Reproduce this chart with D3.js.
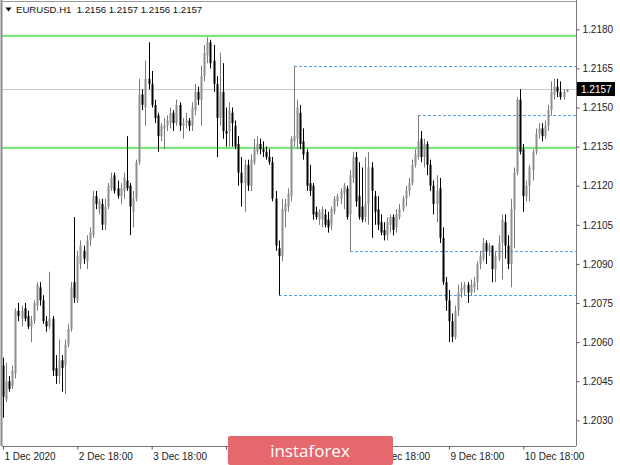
<!DOCTYPE html>
<html><head><meta charset="utf-8">
<script src="https://cdn.jsdelivr.net/npm/d3@7/dist/d3.min.js"></script>
<style>body{margin:0;background:#fff}svg{display:block}</style>
</head><body>
<svg id="c" width="620" height="465"></svg>
<script>
const symbol = "EURUSD.H1";
const headerValues = ["1.2156", "1.2157", "1.2156", "1.2157"];
const xLabelBars = [0, 24, 48, 72, 96, 120, 144, 168];
const xLabels = ["1 Dec 2020", "2 Dec 18:00", "3 Dec 18:00", "4 Dec 18:00", "7 Dec 18:00", "8 Dec 18:00", "9 Dec 18:00", "10 Dec 18:00"];
const yTicks = [1.2030, 1.2045, 1.2060, 1.2075, 1.2090, 1.2105, 1.2120, 1.2135, 1.2150, 1.2165, 1.2180];
const open = [1.2051,1.2038,1.2045,1.2043,1.2048,1.2072,1.2069,1.2073,1.2070,1.2066,
1.2068,1.2074,1.2081,1.2076,1.2068,1.2066,1.2069,1.2050,1.2047,1.2053,
1.2051,1.2059,1.2065,1.2083,1.2076,1.2090,1.2095,1.2091,1.2099,1.2101,
1.2116,1.2111,1.2113,1.2105,1.2112,1.2119,1.2124,1.2119,1.2116,1.2118,
1.2122,1.2120,1.2110,1.2115,1.2129,1.2155,1.2150,1.2161,1.2159,1.2151,
1.2147,1.2139,1.2142,1.2143,1.2144,1.2148,1.2144,1.2151,1.2143,1.2144,
1.2145,1.2143,1.2149,1.2156,1.2153,1.2162,1.2170,1.2175,1.2168,1.2159,
1.2146,1.2156,1.2141,1.2141,1.2148,1.2143,1.2136,1.2125,1.2121,1.2128,
1.2120,1.2129,1.2133,1.2136,1.2134,1.2133,1.2131,1.2129,1.2115,1.2096,
1.2093,1.2110,1.2112,1.2116,1.2137,1.2138,1.2148,1.2137,1.2133,1.2121,
1.2120,1.2110,1.2107,1.2107,1.2109,1.2107,1.2105,1.2110,1.2114,1.2115,
1.2117,1.2119,1.2109,1.2123,1.2131,1.2116,1.2112,1.2108,1.2113,1.2127,
1.2116,1.2111,1.2106,1.2103,1.2101,1.2105,1.2108,1.2104,1.2108,1.2111,
1.2115,1.2118,1.2121,1.2128,1.2131,1.2138,1.2131,1.2136,1.2128,1.2120,
1.2113,1.2119,1.2100,1.2083,1.2076,1.2068,1.2062,1.2072,1.2079,1.2080,
1.2082,1.2079,1.2081,1.2083,1.2090,1.2092,1.2098,1.2095,1.2097,1.2088,
1.2092,1.2098,1.2106,1.2097,1.2090,1.2111,1.2125,1.2153,1.2134,1.2116,
1.2120,1.2126,1.2133,1.2140,1.2142,1.2139,1.2143,1.2149,1.2155,1.2158,
1.2156,1.2154,1.2156];
const high = [1.2054,1.2052,1.2047,1.2051,1.2073,1.2075,1.2074,1.2075,1.2072,1.2070,
1.2076,1.2083,1.2083,1.2078,1.2070,1.2087,1.2070,1.2055,1.2061,1.2055,
1.2061,1.2067,1.2083,1.2108,1.2095,1.2099,1.2097,1.2101,1.2104,1.2118,
1.2118,1.2115,1.2115,1.2115,1.2121,1.2125,1.2125,1.2122,1.2121,1.2125,
1.2139,1.2121,1.2118,1.2130,1.2161,1.2157,1.2168,1.2175,1.2164,1.2153,
1.2148,1.2144,1.2146,1.2147,1.2150,1.2149,1.2153,1.2152,1.2146,1.2148,
1.2146,1.2152,1.2159,1.2158,1.2166,1.2174,1.2177,1.2176,1.2174,1.2162,
1.2171,1.2167,1.2150,1.2152,1.2150,1.2145,1.2139,1.2131,1.2130,1.2130,
1.2132,1.2138,1.2139,1.2138,1.2137,1.2135,1.2134,1.2131,1.2118,1.2099,
1.2115,1.2115,1.2119,1.2139,1.2166,1.2153,1.2151,1.2142,1.2134,1.2128,
1.2121,1.2112,1.2111,1.2112,1.2111,1.2110,1.2112,1.2116,1.2117,1.2119,
1.2121,1.2120,1.2126,1.2133,1.2133,1.2129,1.2127,1.2131,1.2133,1.2129,
1.2118,1.2116,1.2109,1.2106,1.2108,1.2109,1.2109,1.2111,1.2113,1.2116,
1.2120,1.2123,1.2130,1.2134,1.2147,1.2141,1.2138,1.2137,1.2130,1.2122,
1.2124,1.2123,1.2104,1.2085,1.2080,1.2071,1.2074,1.2082,1.2083,1.2083,
1.2083,1.2084,1.2085,1.2091,1.2095,1.2100,1.2099,1.2098,1.2097,1.2095,
1.2101,1.2109,1.2109,1.2101,1.2115,1.2127,1.2154,1.2157,1.2136,1.2122,
1.2128,1.2134,1.2142,1.2144,1.2144,1.2145,1.2151,1.2160,1.2161,1.2161,
1.2160,1.2157,1.2157];
const low = [1.2031,1.2037,1.2041,1.2042,1.2046,1.2068,1.2066,1.2068,1.2065,1.2060,
1.2067,1.2072,1.2074,1.2067,1.2064,1.2065,1.2047,1.2044,1.2044,1.2041,
1.2040,1.2058,1.2064,1.2075,1.2075,1.2088,1.2090,1.2088,1.2097,1.2100,
1.2111,1.2109,1.2103,1.2103,1.2111,1.2118,1.2117,1.2115,1.2113,1.2115,
1.2118,1.2101,1.2104,1.2114,1.2128,1.2149,1.2143,1.2157,1.2150,1.2144,
1.2133,1.2137,1.2134,1.2141,1.2142,1.2141,1.2143,1.2141,1.2138,1.2142,
1.2141,1.2141,1.2147,1.2151,1.2143,1.2160,1.2167,1.2165,1.2156,1.2131,
1.2143,1.2138,1.2135,1.2135,1.2135,1.2134,1.2120,1.2112,1.2110,1.2118,
1.2118,1.2128,1.2132,1.2132,1.2131,1.2130,1.2128,1.2114,1.2095,1.2078,
1.2091,1.2104,1.2110,1.2114,1.2135,1.2134,1.2134,1.2130,1.2118,1.2116,
1.2107,1.2107,1.2105,1.2104,1.2104,1.2102,1.2103,1.2109,1.2112,1.2113,
1.2111,1.2107,1.2095,1.2121,1.2112,1.2107,1.2106,1.2106,1.2105,1.2100,
1.2105,1.2103,1.2101,1.2099,1.2099,1.2102,1.2101,1.2102,1.2107,1.2110,
1.2112,1.2116,1.2120,1.2127,1.2130,1.2129,1.2127,1.2124,1.2118,1.2109,
1.2106,1.2098,1.2082,1.2072,1.2060,1.2060,1.2061,1.2070,1.2077,1.2078,
1.2075,1.2078,1.2079,1.2080,1.2088,1.2091,1.2090,1.2093,1.2083,1.2083,
1.2091,1.2084,1.2092,1.2088,1.2081,1.2096,1.2124,1.2132,1.2110,1.2114,
1.2114,1.2122,1.2132,1.2138,1.2137,1.2138,1.2141,1.2147,1.2153,1.2154,
1.2153,1.2153,1.2156];
const close = [1.2039,1.2045,1.2042,1.2049,1.2072,1.2070,1.2072,1.2069,1.2066,1.2068,
1.2075,1.2082,1.2076,1.2068,1.2066,1.2069,1.2049,1.2047,1.2053,1.2050,
1.2059,1.2065,1.2081,1.2077,1.2093,1.2097,1.2092,1.2099,1.2102,1.2116,
1.2113,1.2114,1.2105,1.2112,1.2120,1.2123,1.2118,1.2116,1.2119,1.2123,
1.2119,1.2112,1.2115,1.2129,1.2155,1.2151,1.2161,1.2159,1.2151,1.2146,
1.2139,1.2143,1.2143,1.2145,1.2148,1.2144,1.2151,1.2143,1.2144,1.2145,
1.2143,1.2150,1.2156,1.2153,1.2162,1.2171,1.2175,1.2167,1.2159,1.2146,
1.2156,1.2141,1.2140,1.2149,1.2144,1.2135,1.2125,1.2121,1.2128,1.2120,
1.2130,1.2134,1.2136,1.2134,1.2133,1.2131,1.2129,1.2115,1.2097,1.2093,
1.2111,1.2113,1.2117,1.2138,1.2139,1.2150,1.2136,1.2132,1.2120,1.2118,
1.2109,1.2108,1.2110,1.2111,1.2105,1.2104,1.2111,1.2115,1.2116,1.2118,
1.2120,1.2108,1.2124,1.2131,1.2114,1.2108,1.2107,1.2113,1.2127,1.2118,
1.2110,1.2105,1.2102,1.2101,1.2106,1.2108,1.2103,1.2109,1.2111,1.2115,
1.2118,1.2121,1.2128,1.2132,1.2137,1.2131,1.2136,1.2128,1.2120,1.2113,
1.2118,1.2100,1.2083,1.2076,1.2068,1.2062,1.2072,1.2079,1.2081,1.2082,
1.2079,1.2082,1.2083,1.2090,1.2093,1.2098,1.2095,1.2097,1.2088,1.2093,
1.2098,1.2107,1.2097,1.2090,1.2111,1.2125,1.2153,1.2133,1.2116,1.2120,
1.2127,1.2133,1.2140,1.2142,1.2139,1.2143,1.2149,1.2156,1.2158,1.2156,
1.2154,1.2156,1.2157];
const greenLevels = [1.21775, 1.21345];
const dottedLevels = [1.2166, 1.2147, 1.2095, 1.2078];
const dottedStartBars = [94, 134, 112, 89];
const lastPrice = 1.2157;

const svg = d3.select("#c");
const plotL = 2, plotR = 576, plotT = 1, plotB = 446;
const font = "'Liberation Sans', Arial, sans-serif";

const x = d3.scaleLinear().domain([0, open.length - 1]).range([3, 566.65]);
const y = d3.scaleLinear().domain([1.2030, 1.2180]).range([420.3, 29.3]);
const px = v => Math.round(x(v));
const py = v => Math.round(y(v));

svg.append("rect").attr("width", 620).attr("height", 465).attr("fill", "#fff");

// green horizontal levels
svg.selectAll("line.green").data(greenLevels).enter().append("line")
  .attr("x1", plotL).attr("x2", plotR)
  .attr("y1", d => y(d)).attr("y2", d => y(d))
  .attr("stroke", "#7ee47e").attr("stroke-width", 2.2);

// current price line
svg.append("line").attr("x1", plotL).attr("x2", plotR)
  .attr("y1", py(lastPrice) + 0.5).attr("y2", py(lastPrice) + 0.5)
  .attr("stroke", "#c8c8c8").attr("stroke-width", 1);

// dotted levels
svg.selectAll("line.dot").data(dottedLevels).enter().append("line")
  .attr("x1", (d, i) => px(dottedStartBars[i]))
  .attr("x2", plotR)
  .attr("y1", d => py(d) + 0.5).attr("y2", d => py(d) + 0.5)
  .attr("stroke", "#4ea3f0").attr("stroke-width", 1.2)
  .attr("stroke-dasharray", "3,2");

// candles
const idx = d3.range(open.length);
const bull = i => close[i] >= open[i];
const g = svg.append("g");
g.selectAll("line.wick").data(idx).enter().append("line")
  .attr("x1", i => px(i) + 0.5).attr("x2", i => px(i) + 0.5)
  .attr("y1", i => y(high[i])).attr("y2", i => y(low[i]))
  .attr("stroke", i => bull(i) ? "#7a7a7a" : "#000").attr("stroke-width", 1);
g.selectAll("rect.body").data(idx).enter().append("rect")
  .attr("x", i => px(i) - 0.5).attr("width", 2)
  .attr("y", i => Math.min(y(open[i]), y(close[i])))
  .attr("height", i => Math.max(1, Math.abs(y(open[i]) - y(close[i]))))
  .attr("fill", i => bull(i) ? "#8e8e8e" : "#000");

// frame
svg.append("line").attr("x1", 1.5).attr("x2", 1.5).attr("y1", 0).attr("y2", plotB).attr("stroke", "#8a8a8a").attr("stroke-width", 2);
svg.append("line").attr("x1", plotL).attr("x2", plotR).attr("y1", 1.5).attr("y2", 1.5).attr("stroke", "#9a9a9a").attr("stroke-width", 1);

// y axis
const yAxis = d3.axisRight(y).tickValues(yTicks).tickFormat(d3.format(".4f")).tickSize(3).tickPadding(3);
const ya = svg.append("g").attr("transform", `translate(${plotR + 0.5},0)`).call(yAxis);
ya.select(".domain").attr("d", `M0,0V${plotB}`).attr("stroke", "#777");
ya.selectAll(".tick line").attr("stroke", "#555");
ya.selectAll("text").attr("font-family", font).attr("font-size", 10).attr("fill", "#222");

// x axis
const xAxis = d3.axisBottom(x).tickValues(xLabelBars).tickFormat((d, i) => xLabels[i]).tickSize(3).tickPadding(3);
const xa = svg.append("g").attr("transform", `translate(0,${plotB + 0.5})`).call(xAxis);
xa.select(".domain").attr("d", `M${plotL},0H${plotR}`).attr("stroke", "#777");
xa.selectAll(".tick line").attr("stroke", "#555");
xa.selectAll("text").attr("font-family", font).attr("font-size", 10).attr("fill", "#222")
  .attr("text-anchor", "start").attr("dx", 1);

// current price label
const lp = py(lastPrice);
svg.append("rect").attr("x", plotR + 1).attr("y", lp - 7).attr("width", 38).attr("height", 14).attr("fill", "#000");
svg.append("text").attr("x", plotR + 5).attr("y", lp + 4).attr("font-family", font).attr("font-size", 10)
  .attr("fill", "#fff").text(d3.format(".4f")(lastPrice));

// header
svg.append("path").attr("d", "M5.5,7.5L11.5,7.5L8.5,11.5Z").attr("fill", "#000");
svg.append("text").attr("x", 16).attr("y", 13).attr("font-family", font).attr("font-size", 9.6).attr("fill", "#111")
  .attr("xml:space", "preserve").text(symbol + "  " + headerValues.join(" "));

// watermark logo (drawn over the axis labels, as in the reference)
svg.append("rect").attr("x", 228).attr("y", 436).attr("width", 165).attr("height", 29).attr("rx", 2).attr("fill", "#e4686c");
svg.append("text").attr("x", 310).attr("y", 457).attr("text-anchor", "middle")
  .attr("font-family", "'Open Sans', sans-serif").attr("font-size", 17).attr("fill", "#fff").text("instaforex");
</script>
</body></html>
